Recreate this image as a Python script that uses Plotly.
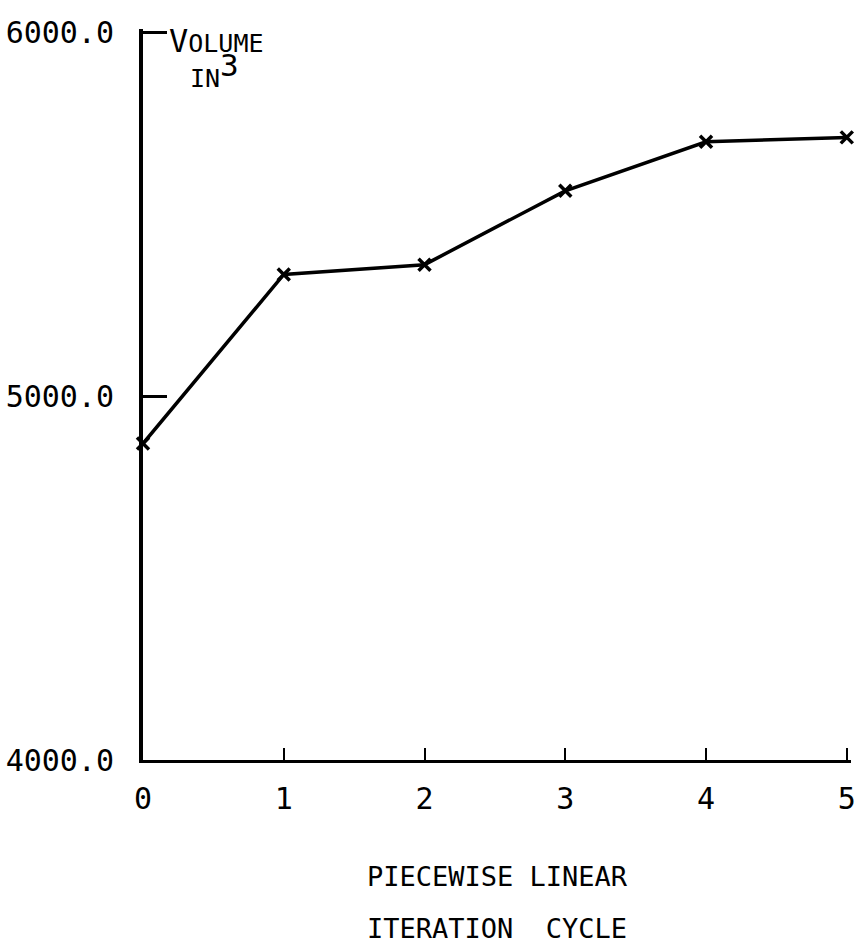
import plotly.graph_objects as go

cycles = [0, 1, 2, 3, 4, 5]
volume = [4870, 5335, 5362, 5565, 5700, 5712]
y_ticks = [4000, 5000, 6000]
y_tick_labels = ["4000.0", "5000.0", "6000.0"]
x_tick_labels = ["0", "1", "2", "3", "4", "5"]

FONT = "DejaVu Sans Mono, Liberation Mono, monospace"

fig = go.Figure()
fig.add_trace(go.Scatter(
    x=cycles, y=volume, mode="lines+markers",
    line=dict(color="black", width=3.5),
    marker=dict(symbol="x-thin", size=12, color="black",
                line=dict(color="black", width=3.5)),
    cliponaxis=False, showlegend=False,
))

fig.update_layout(
    width=862, height=945,
    margin=dict(l=142, r=6, t=29, b=185),
    paper_bgcolor="white", plot_bgcolor="white",
    font=dict(family=FONT, color="black"),
    xaxis=dict(
        range=[0, 5.03], tickvals=cycles, ticktext=x_tick_labels,
        showgrid=False, zeroline=False, showline=True,
        linecolor="black", linewidth=3,
        ticks="inside", ticklen=12, tickwidth=2, tickcolor="black",
        tickfont=dict(size=30, family=FONT), ticklabelstandoff=10,
    ),
    yaxis=dict(
        range=[4000, 6010], tickvals=y_ticks, ticktext=y_tick_labels,
        showgrid=False, zeroline=False, showline=True,
        linecolor="black", linewidth=4,
        ticks="inside", ticklen=24, tickwidth=3, tickcolor="black",
        tickfont=dict(size=30, family=FONT), ticklabelstandoff=19,
    ),
    annotations=[
        dict(text="V<span style='font-size:25px'>OLUME</span>",
             xref="paper", yref="paper", x=0.0, y=0.984, xshift=24,
             xanchor="left", yanchor="middle", showarrow=False,
             font=dict(size=32, family=FONT)),
        dict(text="IN<sup><span style='font-size:31px'>3</span></sup>",
             xref="paper", yref="paper", x=0.0, y=0.944, xshift=45,
             xanchor="left", yanchor="middle", showarrow=False,
             font=dict(size=25, family=FONT)),
        dict(text="PIECEWISE LINEAR",
             xref="paper", yref="paper", x=0.5, y=-0.16,
             xanchor="center", yanchor="middle", showarrow=False,
             font=dict(size=27, family=FONT)),
        dict(text="ITERATION  CYCLE",
             xref="paper", yref="paper", x=0.5, y=-0.23,
             xanchor="center", yanchor="middle", showarrow=False,
             font=dict(size=27, family=FONT)),
    ],
)

fig.write_html("out.html")
